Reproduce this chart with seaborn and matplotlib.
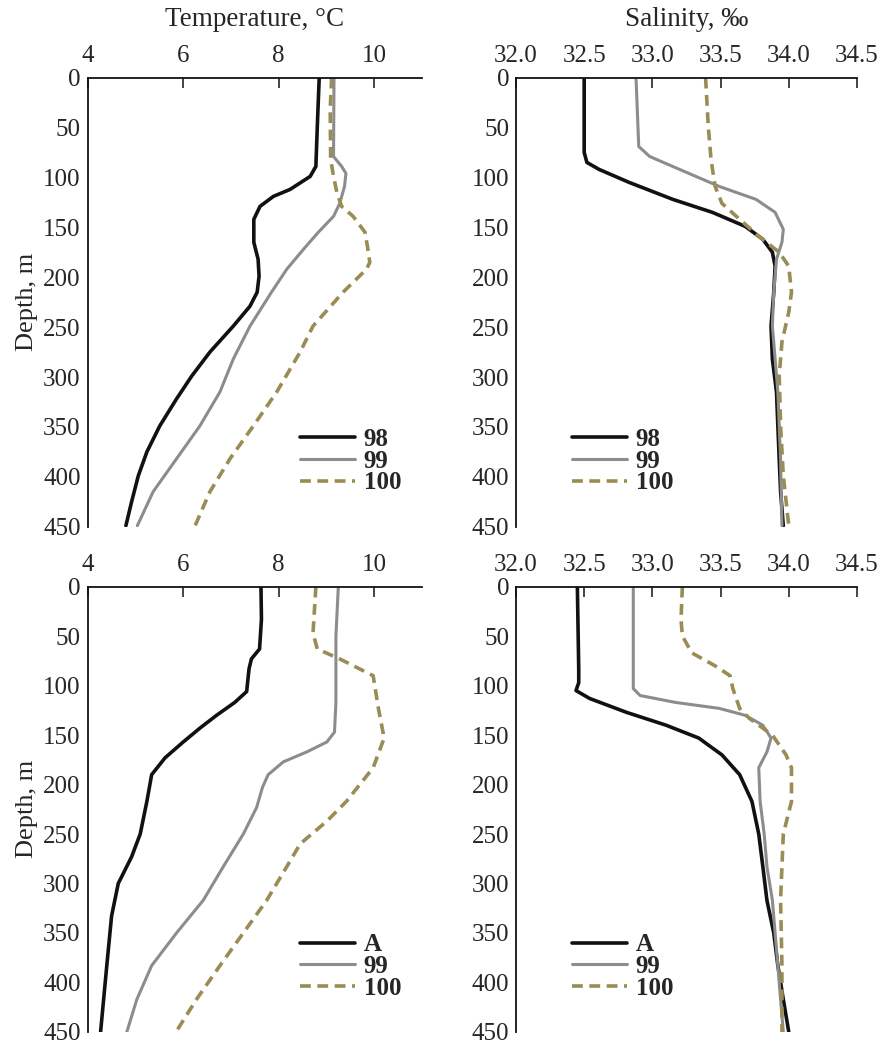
import numpy as np
import pandas as pd
import seaborn as sns
import matplotlib.pyplot as plt
from matplotlib.lines import Line2D

sns.set_style("white")
plt.rcParams['font.family'] = ['Liberation Serif', 'DejaVu Serif']

# ---- data ----
# top-left: temperature, stations 98 / 99 / 100
t98_depth = [0, 49, 89, 99, 112, 119, 129, 142, 165, 182, 199, 215, 229, 249, 275, 299, 322, 349, 375, 399, 425, 449]
t98_temp = [8.85, 8.81, 8.78, 8.66, 8.24, 7.89, 7.61, 7.48, 7.48, 7.57, 7.59, 7.55, 7.40, 7.05, 6.56, 6.18, 5.86, 5.51, 5.24, 5.06, 4.92, 4.80]
t99_depth = [0, 79, 89, 96, 109, 126, 139, 155, 172, 192, 215, 249, 282, 315, 349, 382, 415, 449]
t99_temp = [9.16, 9.15, 9.32, 9.41, 9.38, 9.28, 9.15, 8.83, 8.52, 8.17, 7.85, 7.40, 7.05, 6.77, 6.35, 5.86, 5.37, 5.04]
t100_depth = [0, 32, 82, 99, 115, 129, 139, 155, 169, 185, 192, 215, 249, 275, 315, 349, 382, 415, 449]
t100_temp = [9.11, 9.08, 9.09, 9.15, 9.22, 9.32, 9.56, 9.81, 9.86, 9.91, 9.84, 9.35, 8.72, 8.45, 7.96, 7.47, 6.98, 6.56, 6.25]

# top-right: salinity, stations 98 / 99 / 100
s98_depth = [0, 75, 85, 92, 105, 122, 135, 149, 162, 175, 189, 215, 249, 282, 315, 349, 382, 415, 449]
s98_sal = [32.50, 32.50, 32.52, 32.61, 32.83, 33.15, 33.44, 33.68, 33.81, 33.88, 33.90, 33.89, 33.87, 33.88, 33.91, 33.92, 33.93, 33.94, 33.96]
s99_depth = [0, 69, 79, 92, 109, 122, 135, 152, 165, 182, 215, 249, 282, 315, 382, 449]
s99_sal = [32.88, 32.90, 32.98, 33.20, 33.49, 33.76, 33.90, 33.96, 33.95, 33.91, 33.89, 33.88, 33.90, 33.92, 33.94, 33.95]
s100_depth = [0, 49, 82, 109, 126, 142, 159, 175, 189, 215, 235, 265, 299, 349, 399, 449]
s100_sal = [33.39, 33.41, 33.43, 33.46, 33.51, 33.64, 33.78, 33.93, 34.00, 34.02, 34.00, 33.95, 33.93, 33.94, 33.96, 34.00]

# bottom-left: temperature, stations A / 99 / 100
ta_depth = [0, 33, 63, 73, 83, 106, 117, 130, 143, 157, 173, 190, 217, 250, 273, 300, 333, 383, 450]
ta_temp = [7.63, 7.64, 7.60, 7.43, 7.38, 7.33, 7.08, 6.70, 6.35, 6.00, 5.62, 5.34, 5.24, 5.10, 4.92, 4.64, 4.50, 4.40, 4.27]
tb99_depth = [0, 50, 117, 147, 157, 167, 177, 190, 203, 223, 250, 283, 317, 350, 383, 417, 450]
tb99_temp = [9.25, 9.20, 9.20, 9.17, 9.01, 8.59, 8.10, 7.78, 7.66, 7.54, 7.26, 6.84, 6.42, 5.86, 5.34, 5.03, 4.82]
tb100_depth = [0, 47, 63, 73, 90, 123, 153, 183, 217, 237, 260, 283, 317, 350, 383, 417, 450]
tb100_temp = [8.78, 8.72, 8.81, 9.28, 9.98, 10.09, 10.21, 9.98, 9.42, 9.01, 8.45, 8.17, 7.75, 7.26, 6.77, 6.28, 5.85]

# bottom-right: salinity, stations A / 99 / 100
sa_depth = [0, 83, 97, 105, 113, 127, 140, 153, 170, 190, 217, 250, 283, 317, 350, 383, 417, 450]
sa_sal = [32.45, 32.46, 32.46, 32.44, 32.54, 32.81, 33.10, 33.34, 33.51, 33.64, 33.73, 33.78, 33.81, 33.84, 33.89, 33.92, 33.96, 34.00]
sb99_depth = [0, 83, 103, 110, 117, 123, 130, 140, 153, 167, 183, 217, 250, 283, 317, 350, 383, 417, 450]
sb99_sal = [32.86, 32.86, 32.86, 32.91, 33.17, 33.49, 33.68, 33.81, 33.87, 33.84, 33.78, 33.79, 33.82, 33.84, 33.88, 33.90, 33.92, 33.94, 33.96]
sb100_depth = [0, 33, 50, 67, 80, 90, 103, 123, 133, 150, 170, 183, 217, 250, 283, 317, 383, 450]
sb100_sal = [33.22, 33.21, 33.22, 33.29, 33.46, 33.57, 33.59, 33.64, 33.71, 33.88, 33.98, 34.02, 34.02, 33.96, 33.95, 33.94, 33.95, 33.95]

top_labels = ['98', '99', '100']
bottom_labels = ['A', '99', '100']

# ---- styles ----
colors = ['#111111', '#8c8c8c', '#9a8c55']
widths = [2.6, 2.2, 2.6]
dashes = ['-', '-', (0, (3, 1.8))]

fig = plt.figure(figsize=(8.84, 10.45), dpi=100)
axes = {
    'tl': fig.add_axes([0.0992, 0.496, 0.378, 0.4297]),
    'tr': fig.add_axes([0.5837, 0.496, 0.3857, 0.4297]),
    'bl': fig.add_axes([0.0992, 0.0125, 0.378, 0.4261]),
    'br': fig.add_axes([0.5837, 0.0125, 0.3857, 0.4261]),
}

panels = [
    ('tl', [(t98_temp, t98_depth), (t99_temp, t99_depth), (t100_temp, t100_depth)], top_labels),
    ('tr', [(s98_sal, s98_depth), (s99_sal, s99_depth), (s100_sal, s100_depth)], top_labels),
    ('bl', [(ta_temp, ta_depth), (tb99_temp, tb99_depth), (tb100_temp, tb100_depth)], bottom_labels),
    ('br', [(sa_sal, sa_depth), (sb99_sal, sb99_depth), (sb100_sal, sb100_depth)], bottom_labels),
]

for key, series, labels in panels:
    ax = axes[key]
    for i, (xv, yv) in enumerate(series):
        df = pd.DataFrame({'x': xv, 'depth': yv})
        sns.lineplot(data=df, x='x', y='depth', sort=False, estimator=None, ax=ax,
                     color=colors[i], lw=widths[i], linestyle=dashes[i])
    ax.set_ylim(450, 0)
    ax.set_yticks(np.arange(0, 451, 50))
    if key in ('tl', 'bl'):
        ax.set_xlim(4, 11)
        ax.set_xticks([4, 6, 8, 10])
        ax.set_ylabel('Depth, m', fontsize=19, labelpad=4)
        leg_x = 0.635
    else:
        ax.set_xlim(32.0, 34.5)
        ax.set_xticks(np.arange(32.0, 34.51, 0.5))
        ax.set_xticklabels([f'{v:.1f}' for v in np.arange(32.0, 34.51, 0.5)])
        ax.set_ylabel('')
        leg_x = 0.164
    ax.set_xlabel('')
    ax.xaxis.tick_top()
    ax.tick_params(axis='both', direction='in', length=7, width=1.2, labelsize=18)
    ax.tick_params(axis='x', top=True, bottom=False, labeltop=True, labelbottom=False, pad=8)
    ax.tick_params(axis='y', pad=5)
    for side in ('right', 'bottom'):
        ax.spines[side].set_visible(False)
    for side in ('left', 'top'):
        ax.spines[side].set_linewidth(1.3)
        ax.spines[side].set_color('#111111')

    handles = [Line2D([0], [0], color=colors[i], lw=widths[i], linestyle=dashes[i]) for i in range(3)]
    ax.legend(handles, labels, loc='lower left', bbox_to_anchor=(leg_x, 0.072), frameon=False,
              handlelength=2.2, handletextpad=0.35, labelspacing=-0.05, borderpad=0,
              borderaxespad=0,
              prop={'family': 'Liberation Serif', 'weight': 'bold', 'size': 18})

axes['tl'].xaxis.set_label_position('top')
axes['tl'].set_xlabel('Temperature, °C', fontsize=19.5, labelpad=13)
axes['tr'].xaxis.set_label_position('top')
axes['tr'].set_xlabel('Salinity, ‰', fontsize=19.5, labelpad=13)

fig.savefig('out.png', dpi=100)
